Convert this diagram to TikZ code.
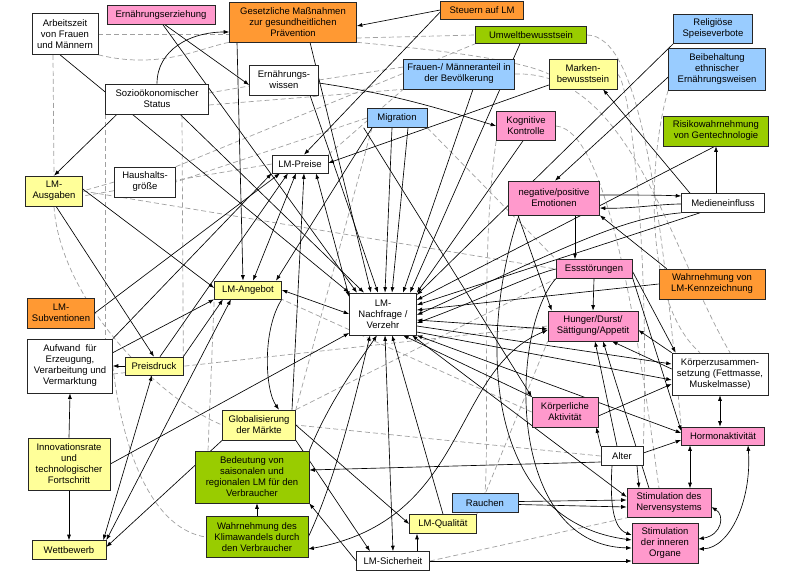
\documentclass[tikz,border=0pt]{standalone}
\usepackage{fontspec}
\setmainfont{Liberation Sans}
\usetikzlibrary{arrows.meta}
\definecolor{cyel}{HTML}{FFFF99}
\definecolor{cpink}{HTML}{FF99CC}
\definecolor{corg}{HTML}{FF9933}
\definecolor{cblue}{HTML}{99CCFF}
\definecolor{cgrn}{HTML}{99CC00}
\definecolor{cdash}{HTML}{A0A0A0}
\pgfdeclarelayer{bg}
\pgfsetlayers{bg,main}
\begin{document}
\begin{tikzpicture}[x=1pt,y=-1pt,
  box/.style={draw=black!85, line width=0.6pt, align=center, inner sep=1pt, font=\fontsize{9.5}{11}\selectfont},
  wb/.style={box, fill=white},
  yb/.style={box, fill=cyel},
  pb/.style={box, fill=cpink},
  ob/.style={box, fill=corg},
  bb/.style={box, fill=cblue},
  gb/.style={box, fill=cgrn},
  arr/.style={-{Latex[length=5.5pt,width=4pt]}, line width=0.65pt},
  darr/.style={{Latex[length=5.5pt,width=4pt]}-{Latex[length=5.5pt,width=4pt]}, line width=0.65pt},
  dl/.style={draw=cdash, dash pattern=on 5pt off 3pt, line width=0.7pt}
]
\useasboundingbox (0,0) rectangle (800,587);
% nodes
\node[wb, minimum width=66pt, minimum height=41pt] (arb) at (65,34) {Arbeitszeit\\von Frauen\\und Männern};
\node[pb, minimum width=108pt, minimum height=19pt] (erz) at (161,15) {Ernährungserziehung};
\node[ob, minimum width=127pt, minimum height=40pt] (ges) at (293,22) {Gesetzliche Maßnahmen\\zur gesundheitlichen\\Prävention};
\node[ob, minimum width=83pt, minimum height=18pt] (steu) at (482,10) {Steuern auf LM};
\node[gb, minimum width=111pt, minimum height=17pt] (umw) at (531,35) {Umweltbewusstsein};
\node[bb, minimum width=79pt, minimum height=29pt] (rel) at (713,29) {Religiöse\\Speiseverbote};
\node[bb, minimum width=97pt, minimum height=42pt] (bei) at (717,69) {Beibehaltung\\ethnischer\\Ernährungsweisen};
\node[yb, minimum width=68pt, minimum height=30pt] (mark) at (583,74) {Marken-\\bewusstsein};
\node[bb, minimum width=111pt, minimum height=30pt] (frau) at (459,74) {Frauen-/ Männeranteil in\\der Bevölkerung};
\node[wb, minimum width=69pt, minimum height=30pt] (wis) at (284,80) {Ernährungs-\\wissen};
\node[wb, minimum width=103pt, minimum height=30pt] (soz) at (157,99) {Sozioökonomischer\\Status};
\node[bb, minimum width=60pt, minimum height=19pt] (mig) at (397,118) {Migration};
\node[pb, minimum width=59pt, minimum height=29pt] (kog) at (526,126) {Kognitive\\Kontrolle};
\node[gb, minimum width=105pt, minimum height=30pt] (risk) at (716,131) {Risikowahrnehmung\\von Gentechnologie};
\node[wb, minimum width=56pt, minimum height=18pt] (preis) at (300,164) {LM-Preise};
\node[wb, minimum width=61pt, minimum height=30pt] (haus) at (145,182) {Haushalts-\\größe};
\node[yb, minimum width=57pt, minimum height=30pt] (ausg) at (54,191) {LM-\\Ausgaben};
\node[pb, minimum width=91pt, minimum height=34pt] (emo) at (554,198) {negative/positive\\Emotionen};
\node[wb, minimum width=83pt, minimum height=19pt] (med) at (723,203) {Medieneinfluss};
\node[pb, minimum width=76pt, minimum height=19pt] (ess) at (594,269) {Essstörungen};
\node[ob, minimum width=106pt, minimum height=30pt] (kenn) at (712,284) {Wahrnehmung von\\LM-Kennzeichnung};
\node[pb, minimum width=90pt, minimum height=30pt] (hung) at (593,326) {Hunger/Durst/\\Sättigung/Appetit};
\node[wb, minimum width=96pt, minimum height=42pt] (koerp) at (720,374) {Körperzusammen-\\setzung (Fettmasse,\\Muskelmasse)};
\node[yb, minimum width=67pt, minimum height=18pt] (ang) at (248,290) {LM-Angebot};
\node[wb, minimum width=67pt, minimum height=42pt] (nach) at (383,314) {LM-\\Nachfrage /\\Verzehr};
\node[ob, minimum width=67pt, minimum height=30pt] (subv) at (61,313) {LM-\\Subventionen};
\node[wb, minimum width=85pt, minimum height=54pt] (aufw) at (70,366) {Aufwand \ für\\Erzeugung,\\Verarbeitung und\\Vermarktung};
\node[yb, minimum width=58pt, minimum height=18pt] (pdr) at (154,366) {Preisdruck};
\node[pb, minimum width=66pt, minimum height=30pt] (kaktiv) at (565,412) {Körperliche\\Aktivität};
\node[pb, minimum width=83pt, minimum height=18pt] (horm) at (723,436) {Hormonaktivität};
\node[wb, minimum width=42pt, minimum height=19pt] (alter) at (622,456) {Alter};
\node[yb, minimum width=73pt, minimum height=30pt] (glob) at (259,425) {Globalisierung\\der Märkte};
\node[yb, minimum width=82pt, minimum height=52pt] (inno) at (69,464) {Innovationsrate\\und\\technologischer\\Fortschritt};
\node[gb, minimum width=114pt, minimum height=52pt] (bed) at (252,477) {Bedeutung von\\saisonalen und\\regionalen LM für den\\Verbraucher};
\node[bb, minimum width=66pt, minimum height=19pt] (rauch) at (485,503) {Rauchen};
\node[pb, minimum width=84pt, minimum height=29pt] (nerv) at (669,503) {Stimulation des\\Nervensystems};
\node[yb, minimum width=67pt, minimum height=19pt] (qual) at (443,524) {LM-Qualität};
\node[gb, minimum width=102pt, minimum height=41pt] (klima) at (257,537) {Wahrnehmung des\\Klimawandels durch\\den Verbraucher};
\node[pb, minimum width=66pt, minimum height=40pt] (org) at (665,543) {Stimulation\\der inneren\\Organe};
\node[yb, minimum width=74pt, minimum height=19pt] (wett) at (69,550) {Wettbewerb};
\node[wb, minimum width=73pt, minimum height=19pt] (sich) at (393,561) {LM-Sicherheit};

\begin{pgfonlayer}{bg}
\fill[white] (0,0) rectangle (800,587);
% dashed connectors
\draw[dl] (arb.east) -- (ges.west |- arb.east);
\draw[dl] ([xshift=-12pt]arb.south) -- (ausg.north);
\draw[dl] (soz.south west) -- (soz.south west |- aufw.north);
\draw[dl] ([xshift=25pt]soz.south) -- (pdr.north east);
\draw[dl] (haus.west) -- (ausg.east);
\draw[dl] (mig.west) -- (haus.east);
\draw[dl] ([yshift=-16pt]ges.east) -- (umw.west);
\draw[dl] (wis.east) -- ([yshift=7pt]frau.west);
\draw[dl] ([yshift=-6pt]soz.east) -- (frau.south west);
\draw[dl] ([yshift=6pt]soz.east) -- ([yshift=-6pt]wis.west);
\draw[dl] (preis.west) -- ([yshift=-5pt]ausg.east);
\draw[dl] (mig.south east) -- (ess.north west);
\draw[dl] ([xshift=-25pt]mig.south) -- (glob.north east);
\draw[dl] (umw.east) .. controls (640,35) and (660,200) .. (horm.north west);
\draw[dl] (mark.east) .. controls (630,80) and (650,250) .. (alter.north east);
\draw[dl] (bei.south west) .. controls (650,150) and (640,300) .. ([xshift=-20pt]koerp.north);
\draw[dl] (kog.east) .. controls (610,130) and (640,350) .. ([xshift=-10pt]nerv.north);
\draw[dl] (frau.east) .. controls (630,70) and (670,250) .. ([xshift=10pt]koerp.north);
\draw[dl] (kaktiv.west) -- (ang.south east);
\draw[dl] (alter.west) -- (glob.east);
\draw[dl] (sich.east) -- (nerv.south west);
\draw[dl] (qual.north east) -- (hung.south west);
\draw[dl] (aufw.east) .. controls (125,470) and (160,530) .. (klima.west);
\draw[dl] ([xshift=-44pt]bed.north) -- (ang.south west);
\draw[dl] (ausg.south) .. controls (60,300) and (160,400) .. (glob.west);
\draw[dl] (arb.south east) .. controls (160,70) and (200,48) .. (ges.south west);
\draw[dl] (ausg.east) -- (ess.west);
\draw[dl] ([yshift=-8pt]aufw.east) -- (hung.west);
\draw[dl] (kog.south west) .. controls (480,250) and (490,420) .. (rauch.north);
\draw[dl] (ges.south east) .. controls (440,50) and (520,60) .. (mark.west);
\draw[dl] (haus.north east) -- (umw.south west);
\draw[dl] (preis.north east) -- (frau.south west);
\draw[dl] (glob.north east) -- (ess.south west);

% solid connectors: into Nachfrage
\draw[arr] ([xshift=-5pt]arb.south) -- (nach.north west);
\draw[arr] ([xshift=2pt]erz.south) -- ([xshift=-26pt]nach.north);
\draw[arr] ([xshift=23pt]soz.south) -- ([xshift=-19pt]nach.north);
\draw[arr] ([xshift=17pt]ges.south) -- ([xshift=-12pt]nach.north);
\draw[arr] ([xshift=26pt]wis.south) -- ([xshift=-5pt]nach.north);
\draw[arr] ([xshift=-5pt]mig.south) -- ([xshift=2pt]nach.north);
\draw[arr] ([xshift=11pt]mig.south) -- ([xshift=9pt]nach.north);
\draw[arr] ([xshift=14pt]frau.south) -- ([xshift=20pt]nach.north);
\draw[arr] ([xshift=-11pt]umw.south) -- ([xshift=27pt]nach.north);
\draw[arr] ([xshift=-3pt]kog.south) -- (nach.north east);
\draw[arr] (rel.south west) -- ([yshift=19pt]nach.east);
\draw[arr] ([xshift=-1pt]risk.south) -- ([yshift=14pt]nach.east);
\draw[arr] ([xshift=-23pt]med.south) -- ([yshift=9pt]nach.east);
\draw[arr] (kenn.west) -- ([yshift=4pt]nach.east);
\draw[arr] (med.south west) .. controls (620,218) and (560,250) .. ([yshift=-1pt]nach.east);
\draw[darr] ([yshift=-3pt]hung.west) -- ([yshift=-6pt]nach.east);
\draw[arr] (ess.west) .. controls (530,275) and (480,300) .. ([yshift=-9pt]nach.east);
\draw[arr] ([yshift=-12pt]nach.east) -- ([yshift=10pt]koerp.west);
\draw[arr] ([yshift=-18pt]nach.east) -- ([yshift=-6pt]koerp.west);
\draw[darr] (nach.south east) -- ([yshift=3pt]horm.west);
\draw[darr] ([xshift=29pt]nach.south) -- ([yshift=6pt]nerv.west);
\draw[arr] (kaktiv.north west) -- ([xshift=20pt]nach.south);
\draw[arr] (qual.north) -- ([xshift=9pt]nach.south);
\draw[darr] (sich.north) -- ([xshift=2pt]nach.south);
\draw[arr] (bed.north east) .. controls (330,400) and (360,360) .. ([xshift=-6pt]nach.south);
\draw[arr] (klima.east) .. controls (335,480) and (355,400) .. ([xshift=-13pt]nach.south);
\draw[arr] (inno.east) -- ([yshift=-19pt]nach.west);
\draw[darr] (ang.east) -- (nach.west);
\draw[darr] ([xshift=16pt]preis.south) -- ([yshift=17pt]nach.west);

% upper left
\draw[arr] ([xshift=4pt]erz.south) -- ([yshift=-5pt]wis.west);
\draw[arr] (soz.north) .. controls (157,50) and (190,32) .. ([yshift=-10pt]ges.west);
\draw[arr] ([xshift=-40pt]soz.south) -- (ausg.north);
\draw[arr] (steu.west) -- ([yshift=-4pt]ges.east);
\draw[arr] ([yshift=-2pt]steu.west) -- ([xshift=4pt]preis.north);
\draw[arr] ([yshift=-3pt]wis.east) .. controls (400,95) and (450,112) .. (kog.west);
\draw[arr] ([yshift=-11pt]mark.west) -- ([yshift=1pt]preis.east);
\draw[arr] ([xshift=-33pt]med.north) -- ([xshift=20pt]mark.south);
\draw[arr] ([xshift=-7pt]med.north) -- ([xshift=-7pt]med.north |- risk.south);
\draw[arr] ([yshift=-8pt]bei.west) -- ([xshift=1pt]emo.north);
\draw[arr] ([yshift=3pt]emo.east) .. controls (630,195) and (660,195) .. ([yshift=7pt]med.west);
\draw[arr] ([yshift=-1pt]med.west) .. controls (660,204) and (630,209) .. ([yshift=-10pt]emo.east);
\draw[arr] ([xshift=8pt]kenn.north west) -- (emo.south east);
\draw[arr] ([xshift=21pt]emo.south) -- ([xshift=-19pt]ess.north);
\draw[arr] (ess.south) -- (hung.north);
\draw[arr] ([xshift=-36pt]emo.south) -- ([xshift=4pt]hung.north west);
\draw[arr] ([yshift=-2pt]ess.east) -- ([xshift=4pt]koerp.north west);
\draw[arr] ([yshift=-8pt]ess.east) -- ([yshift=5pt]horm.west);
\draw[arr] (koerp.north west) -- ([yshift=-4pt]hung.east);
\draw[arr] ([yshift=5pt]koerp.west) -- ([xshift=19pt]hung.south);
\draw[arr] ([xshift=-20pt]nerv.north) -- ([xshift=10pt]hung.south);
\draw[arr] ([xshift=-5pt]alter.north) -- ([xshift=2pt]hung.south);
\draw[arr] ([xshift=-3pt]mig.south west) -- (kaktiv.north west);

% right bottom cluster
\draw[darr] (koerp.south) -- (koerp.south |- horm.north);
\draw[darr] ([xshift=21pt]nerv.north) -- ([xshift=21pt]nerv.north |- horm.south);
\draw[darr] ([xshift=25pt]horm.south) .. controls (752,500) and (730,548) .. ([yshift=-6pt]org.east);
\draw[darr] ([yshift=-4pt]nerv.east) .. controls (725,515) and (722,535) .. ([yshift=4pt]org.east);
\draw[arr] (alter.north west) -- ([xshift=-2pt]kaktiv.south east);
\draw[arr] ([yshift=3pt]alter.east) -- ([yshift=-4pt]horm.west);
\draw[arr] ([xshift=15pt]alter.south) -- ([xshift=-30pt]nerv.north);
\draw[arr] ([xshift=-10pt]alter.south) .. controls (610,500) and (612,528) .. ([yshift=8pt]org.west);
\draw[arr] ([yshift=-4pt]kaktiv.east) -- ([yshift=-10pt]koerp.west);
\draw[arr] ([yshift=-6pt]alter.west) -- ([yshift=7pt]bed.east);
\draw[arr] ([yshift=1.5pt]rauch.east) -- ([yshift=3pt]nerv.west);
\draw[arr] ([yshift=-1.5pt]rauch.east) -- ([yshift=-4pt]nerv.west);
\draw[arr] (sich.east) -- ([yshift=-18pt]org.west);
\draw[arr] ([xshift=-35pt]emo.south) .. controls (480,330) and (480,520) .. ([yshift=3pt]org.west);
\draw[arr] (ess.south west) .. controls (510,330) and (505,545) .. ([yshift=-5pt]org.west);
\draw[darr] ([yshift=-4pt]hung.west) .. controls (450,370) and (470,520) .. ([yshift=-12pt]klima.east);

% bottom / left
\draw[arr] (klima.north) -- (klima.north |- bed.south);
\draw[arr] (sich.west) -- (bed.south east);
\draw[arr] ([xshift=24pt]sich.north) -- ([xshift=24pt]sich.north |- qual.south);
\draw[arr] (glob.east) -- (qual.west);
\draw[arr] (glob.south east) -- ([xshift=-23pt]sich.north);
\draw[arr] (glob.south west) -- ([yshift=3pt]wett.east);
\draw[arr] ([xshift=33pt]glob.north) -- ([xshift=4pt]preis.south);
\draw[arr] (ang.south east) .. controls (262,330) and (265,390) .. ([xshift=20pt]glob.north);
\draw[arr] (inno.north) -- (aufw.south);
\draw[arr] (inno.south) -- (wett.north);
\draw[arr] (pdr.west) -- (aufw.east);
\draw[arr] ([xshift=2pt]ausg.south) -- (pdr.north);
\draw[arr] ([yshift=2pt]ausg.east) -- ([yshift=2pt]ang.west);
\draw[arr] (aufw.north east) -- (preis.south west);
\draw[arr] ([yshift=-14pt]aufw.north east) -- (ang.south west);
\draw[arr] (subv.east) -- ([xshift=-20pt]preis.south);
\draw[arr] ([xshift=6pt]pdr.north) -- ([xshift=-12pt]preis.south);
\draw[arr] (pdr.north east) -- ([xshift=-25pt]ang.south);
\draw[darr] ([xshift=-3pt]wett.north east) -- ([xshift=-2pt]pdr.south);
\draw[darr] (wett.north east) -- ([xshift=-17pt]ang.south);
\draw[arr] ([xshift=-56pt]ges.south) -- ([xshift=-5pt]ang.north);
\draw[darr] ([xshift=-4pt]preis.south) -- ([xshift=5pt]ang.north);
\draw[arr] ([xshift=-25pt]mig.south) -- ([xshift=28pt]ang.north);
\end{pgfonlayer}
\end{tikzpicture}
\end{document}
